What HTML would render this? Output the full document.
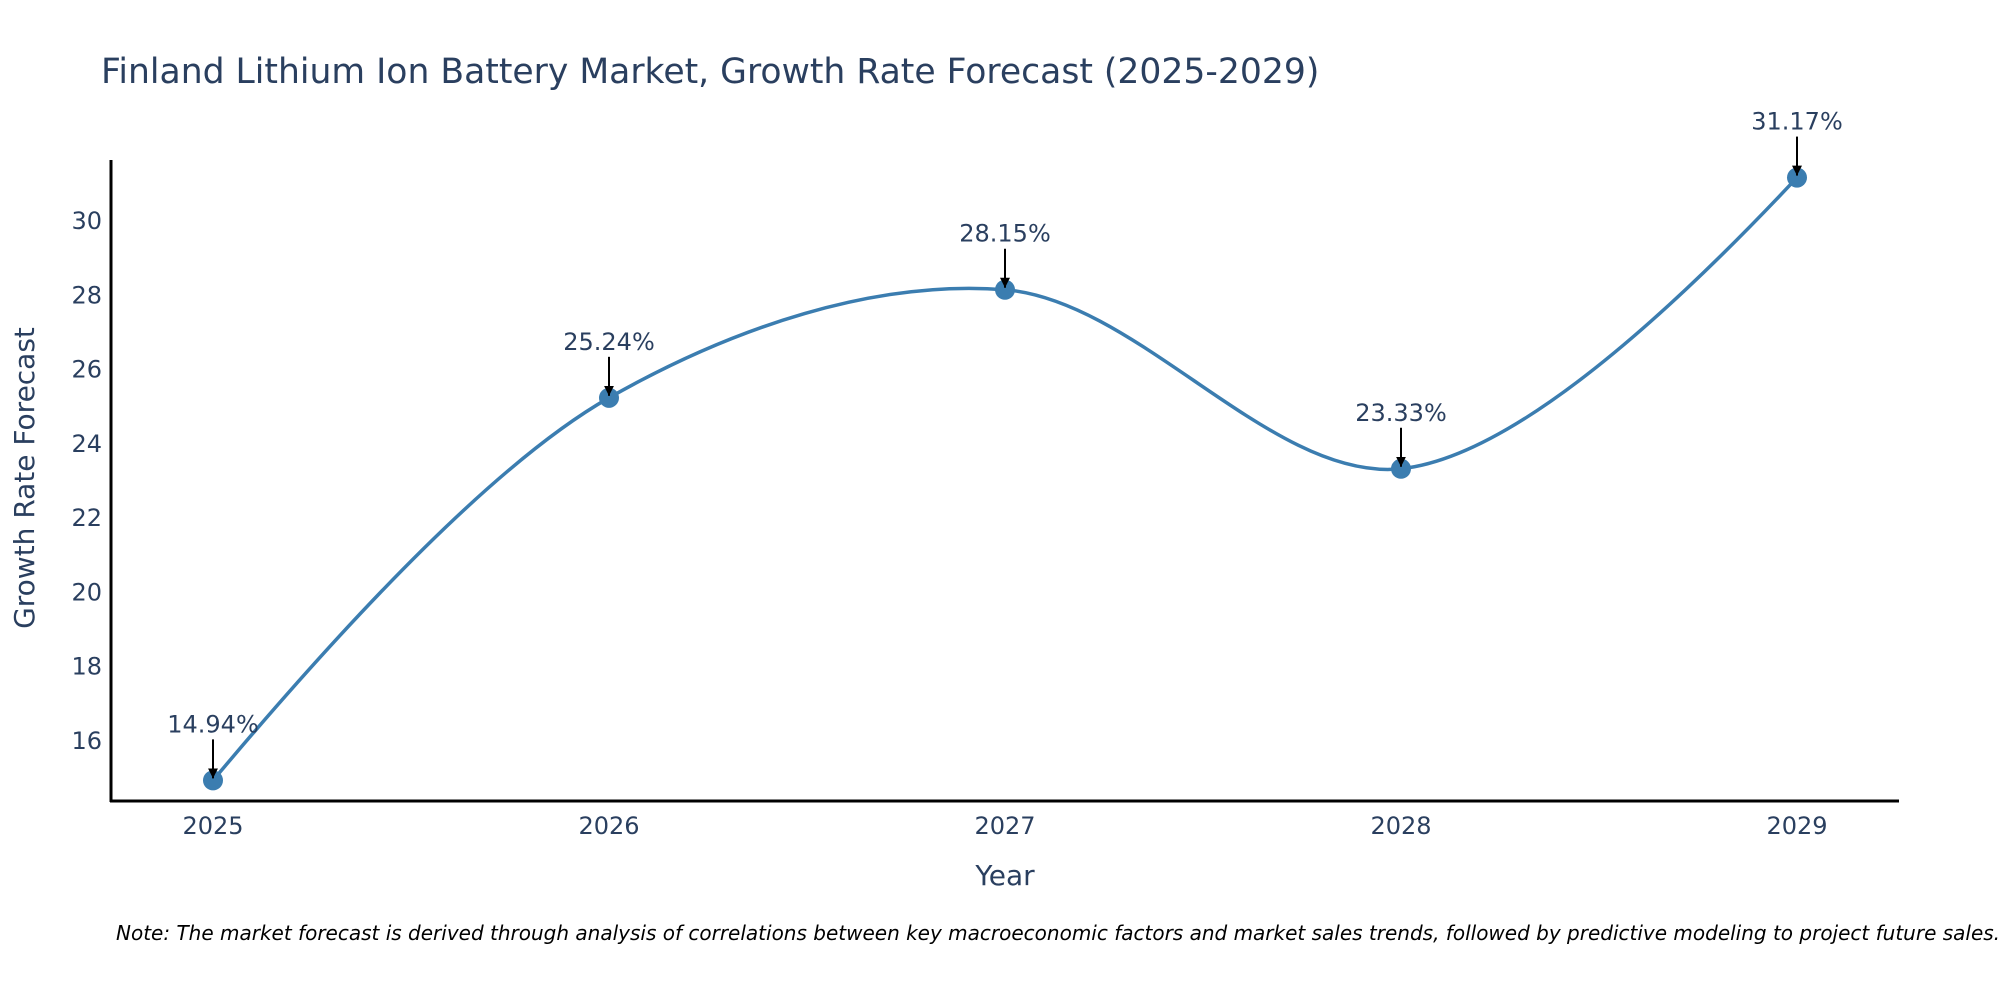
<!DOCTYPE html>
<html><head><meta charset="utf-8"><style>
body{margin:0;background:#fff;}
svg{display:block;font-family:"DejaVu Sans","Liberation Sans",sans-serif;}
</style></head><body>
<svg id="chart" width="2000" height="1000" viewBox="0 0 2000 1000" xmlns="http://www.w3.org/2000/svg">
<text x="101" y="83" font-size="34.6" fill="#2a3f5f">Finland Lithium Ion Battery Market, Growth Rate Forecast (2025-2029)</text>
<g id="yticks"></g>
<g id="xticks"></g>
<line x1="111" y1="160" x2="111" y2="802" stroke="#000" stroke-width="3"/>
<line x1="110" y1="801" x2="1899" y2="801" stroke="#000" stroke-width="3"/>
<g id="series"></g>
<g id="annots"></g>
<text transform="translate(34,478) rotate(-90)" text-anchor="middle" font-size="28" fill="#2a3f5f">Growth Rate Forecast</text>
<text x="1005" y="885" text-anchor="middle" font-size="28" fill="#2a3f5f">Year</text>
<text x="116" y="940" font-size="20" font-style="italic" fill="#000">Note: The market forecast is derived through analysis of correlations between key macroeconomic factors and market sales trends, followed by predictive modeling to project future sales.</text>
<defs><marker id="arr" viewBox="0 0 10 10" refX="10" refY="5" markerWidth="5" markerHeight="5" orient="auto"><path d="M0,0 L10,5 L0,10 z" fill="#000"/></marker></defs>
</svg>
<script>
const years=[2025,2026,2027,2028,2029];
const values=[14.94,25.24,28.15,23.33,31.17];
const labels=["14.94%","25.24%","28.15%","23.33%","31.17%"];
const yTicks=[16,18,20,22,24,26,28,30];
const NS="http://www.w3.org/2000/svg";
function xs(y){return 213+(y-2025)*396;}
function ys(v){return 741-(v-16)*37.14;}
function mk(t,a,p){const e=document.createElementNS(NS,t);for(const k in a)e.setAttribute(k,a[k]);p.appendChild(e);return e;}
const yt=document.getElementById('yticks');
yTicks.forEach(v=>{const t=mk('text',{x:102,y:ys(v)+8,'text-anchor':'end','font-size':24,fill:'#2a3f5f'},yt);


t.textContent=v;});
const xt=document.getElementById('xticks');
years.forEach(y=>{const t=mk('text',{x:xs(y),y:834,'text-anchor':'middle','font-size':24,fill:'#2a3f5f'},xt);


t.textContent=y;});
const pts=years.map((y,i)=>[xs(y),ys(values[i])]);
function ctrl(p0,p1,p2,sm){
 const d1x=p0[0]-p1[0],d1y=p0[1]-p1[1],d2x=p2[0]-p1[0],d2y=p2[1]-p1[1];
 const d1a=Math.pow(d1x*d1x+d1y*d1y,0.25),d2a=Math.pow(d2x*d2x+d2y*d2y,0.25);
 const nx=(d2a*d2a*d1x-d1a*d1a*d2x)*sm,ny=(d2a*d2a*d1y-d1a*d1a*d2y)*sm;
 const den1=3*d2a*(d1a+d2a),den2=3*d1a*(d1a+d2a);
 return [[p1[0]+nx/den1,p1[1]+ny/den1],[p1[0]-nx/den2,p1[1]-ny/den2]];
}
const tg=[];for(let i=1;i<pts.length-1;i++)tg.push(ctrl(pts[i-1],pts[i],pts[i+1],1));
let d='M'+pts[0]+'Q'+tg[0][0]+' '+pts[1];
for(let i=1;i<pts.length-2;i++)d+='C'+tg[i-1][1]+' '+tg[i][0]+' '+pts[i+1];
d+='Q'+tg[pts.length-3][1]+' '+pts[pts.length-1];
const sg=document.getElementById('series');
const ln=mk('path',{d:d,fill:'none',stroke:'#3b7db0','stroke-width':3.5},sg);


const ag=document.getElementById('annots');
pts.forEach((p,i)=>{const c=mk('circle',{cx:p[0],cy:p[1],r:10,fill:'#3b7db0'},sg);


const a=mk('line',{x1:p[0],y1:p[1]-41,x2:p[0],y2:p[1]-2,stroke:'#000','stroke-width':2,'marker-end':'url(#arr)'},ag);


const t=mk('text',{x:p[0],y:p[1]-48,'text-anchor':'middle','font-size':24,fill:'#2a3f5f'},ag);


t.textContent=labels[i];});
</script>
</body></html>
